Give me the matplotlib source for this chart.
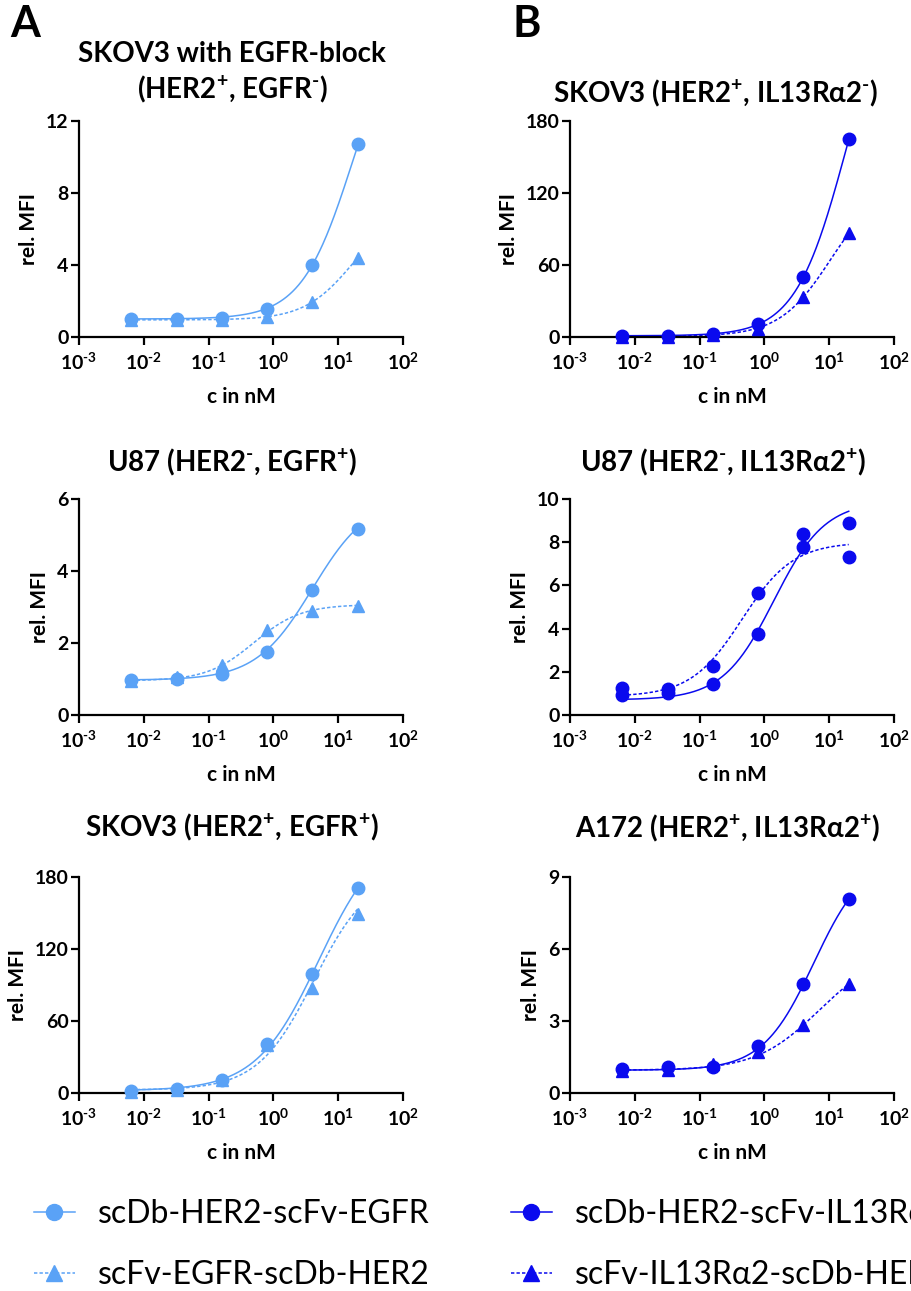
import matplotlib
matplotlib.use('Agg')
import matplotlib.pyplot as plt
import numpy as np
from matplotlib.lines import Line2D
from matplotlib.ticker import NullLocator

plt.rcParams['font.family'] = ['Lato', 'DejaVu Sans']
plt.rcParams['font.weight'] = 'bold'
plt.rcParams['mathtext.fontset'] = 'custom'
plt.rcParams['mathtext.rm'] = 'Lato:bold'
plt.rcParams['mathtext.bf'] = 'Lato:bold'
plt.rcParams['mathtext.it'] = 'Lato:bold:italic'

# ---------------- data ----------------
conc = [0.0064, 0.032, 0.16, 0.8, 4.0, 20.0]   # nM

# Panel A (EGFR constructs)
a1_db = [1.0, 1.0, 1.05, 1.55, 4.0, 10.7]
a1_fv = [0.95, 0.95, 0.95, 1.1, 1.95, 4.4]
a2_db = [0.97, 0.99, 1.13, 1.74, 3.48, 5.17]
a2_fv = [0.95, 1.06, 1.38, 2.37, 2.9, 3.03]
a3_db = [1.4, 3.3, 11.1, 40.6, 99.4, 170.6]
a3_fv = [0.8, 2.8, 10.5, 39.7, 87.5, 149.4]

# Panel B (IL13Ra2 constructs)
b1_db = [0.6, 0.8, 2.8, 11.1, 50.1, 164.7]
b1_fv = [0.0, 0.0, 1.4, 7.0, 33.4, 86.3]
b2_db = [0.93, 1.0, 1.44, 3.75, 8.38, 8.87]
b2_fv = [1.27, 1.2, 2.27, 5.65, 7.76, 7.3]
b3_db = [0.98, 1.07, 1.08, 1.97, 4.54, 8.1]
b3_fv = [0.9, 0.97, 1.19, 1.70, 2.84, 4.54]

# 4-parameter logistic fit parameters: (bottom, top, EC50, hill)
a1_db_fit = (1.0, 18.5, 16.7, 1.1)
a1_fv_fit = (0.95, 7.3, 17.2, 1.15)
a2_db_fit = (0.97, 6.05, 4.0, 1.0)
a2_fv_fit = (0.95, 3.07, 0.5, 1.2)
a3_db_fit = (2.0, 219.0, 5.0, 0.9)
a3_fv_fit = (2.5, 185.0, 4.2, 1.0)
b1_db_fit = (1.0, 314.0, 18.5, 1.1)
b1_fv_fit = (0.5, 128.5, 10.5, 1.1)
b2_db_fit = (0.7, 9.9, 1.4, 1.1)
b2_fv_fit = (0.85, 8.0, 0.45, 1.1)
b3_db_fit = (0.95, 9.9, 5.8, 1.1)
b3_fv_fit = (0.95, 5.9, 6.85, 0.9)

P = r"$^{+}$"
M = r"$^{\text{-}}$"
titles = [
    "SKOV3 with EGFR-block\n(HER2" + P + ", EGFR" + M + ")",
    "SKOV3 (HER2" + P + ", IL13Rα2" + M + ")",
    "U87 (HER2" + M + ", EGFR" + P + ")",
    "U87 (HER2" + M + ", IL13Rα2" + P + ")",
    "SKOV3 (HER2" + P + ", EGFR" + P + ")",
    "A172 (HER2" + P + ", IL13Rα2" + P + ")",
]
y_max = [12, 180, 6, 10, 180, 9]
y_ticks = [[0, 4, 8, 12], [0, 60, 120, 180], [0, 2, 4, 6],
           [0, 2, 4, 6, 8, 10], [0, 60, 120, 180], [0, 3, 6, 9]]
x_ticks = [1e-3, 1e-2, 1e-1, 1e0, 1e1, 1e2]
x_ticklabels = [r"$10^{\text{-}3}$", r"$10^{\text{-}2}$", r"$10^{\text{-}1}$",
                r"$10^{0}$", r"$10^{1}$", r"$10^{2}$"]

legend_A = ["scDb-HER2-scFv-EGFR", "scFv-EGFR-scDb-HER2"]
legend_B = ["scDb-HER2-scFv-IL13Rα2", "scFv-IL13Rα2-scDb-HER2"]

light = "#5AA2F6"
dark = "#0A0AEE"

# ---------------- layout ----------------
W, H = 911, 1291
fig = plt.figure(figsize=(W / 100, H / 100), dpi=100)

def axes_px(left, top, right, bottom):
    return fig.add_axes([left / W, 1 - bottom / H, (right - left) / W, (bottom - top) / H])

ax_pos = [(79, 121, 403, 337), (570, 121, 894, 337),
          (79, 499, 403, 715), (570, 499, 894, 715),
          (79, 877, 403, 1093), (570, 877, 894, 1093)]
title_pos = [(232, 73), (716, 93), (232, 462), (723, 462), (232, 827), (728, 828)]

series = [
    (a1_db, a1_fv, a1_db_fit, a1_fv_fit, light, 'o', '^'),
    (b1_db, b1_fv, b1_db_fit, b1_fv_fit, dark, 'o', '^'),
    (a2_db, a2_fv, a2_db_fit, a2_fv_fit, light, 'o', '^'),
    (b2_db, b2_fv, b2_db_fit, b2_fv_fit, dark, 'o', 'o'),
    (a3_db, a3_fv, a3_db_fit, a3_fv_fit, light, 'o', '^'),
    (b3_db, b3_fv, b3_db_fit, b3_fv_fit, dark, 'o', '^'),
]

def logistic(x, p):
    b, t, e, h = p
    return b + (t - b) / (1 + (e / x) ** h)

dash = (0, (2.2, 1.4))
xs = np.logspace(np.log10(conc[0]), np.log10(conc[-1]), 300)
c = np.array(conc)

for i in range(6):
    ax = axes_px(*ax_pos[i])
    db, fv, pdb, pfv, col, mdb, mfv = series[i]
    ax.plot(xs, logistic(xs, pdb), color=col, lw=1.1, ls='-')
    ax.plot(xs, logistic(xs, pfv), color=col, lw=1.1, ls=dash)
    ax.plot(c, fv, ls='none', marker=mfv, ms=9, color=col, mec=col, clip_on=False, zorder=3)
    ax.plot(c, db, ls='none', marker=mdb, ms=9, color=col, mec=col, clip_on=False, zorder=4)
    ax.set_xscale('log')
    ax.set_xlim(1e-3, 1e2)
    ax.set_ylim(0, y_max[i])
    ax.set_yticks(y_ticks[i])
    ax.set_xticks(x_ticks)
    ax.set_xticklabels(x_ticklabels)
    ax.xaxis.set_minor_locator(NullLocator())
    for s in ['top', 'right']:
        ax.spines[s].set_visible(False)
    for s in ['left', 'bottom']:
        ax.spines[s].set_linewidth(1.6)
    ax.tick_params(axis='both', width=1.6, length=5.5, labelsize=14, pad=2)
    ax.tick_params(axis='x', pad=5)
    ax.set_xlabel("c in nM", fontsize=15, fontweight='bold', labelpad=10)
    ax.set_ylabel("rel. MFI", fontsize=15, fontweight='bold', labelpad=5)
    tx, ty = title_pos[i]
    fig.text(tx / W, 1 - ty / H, titles[i], ha='center', va='center',
             fontsize=20, fontweight='bold', linespacing=1.3)

fig.text(10 / W, 1 - 24 / H, "A", fontsize=31, fontweight='bold', ha='left', va='center')
fig.text(512 / W, 1 - 24 / H, "B", fontsize=31, fontweight='bold', ha='left', va='center')

# legends
def handles(col):
    return [Line2D([], [], color=col, lw=1.1, ls='-', marker='o', ms=11.5),
            Line2D([], [], color=col, lw=1.1, ls=dash, marker='^', ms=11.5)]

for labels, col, x0 in [(legend_A, light, 34), (legend_B, dark, 511)]:
    leg = fig.legend(handles(col), labels, loc='upper left',
                     bbox_to_anchor=(x0 / W, 1 - 1199 / H), frameon=False,
                     prop={'family': ['Lato', 'DejaVu Sans'], 'weight': 'normal', 'size': 23},
                     handlelength=1.28, handletextpad=0.72, labelspacing=0.97, borderpad=0,
                     borderaxespad=0)

fig.savefig("out.png", dpi=100)
